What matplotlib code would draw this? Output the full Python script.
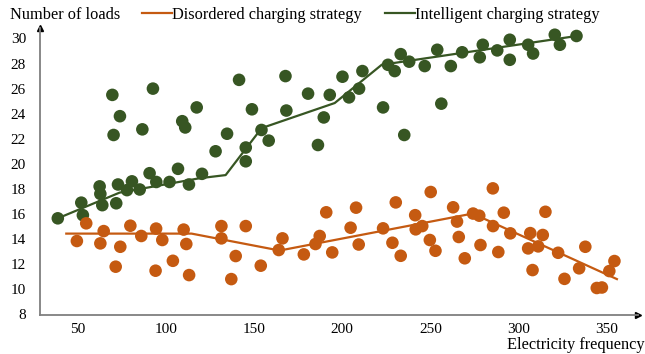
import matplotlib.pyplot as plt
from matplotlib.lines import Line2D

plt.rcParams['font.family'] = ['Liberation Serif', 'DejaVu Serif']

# disordered charging strategy (orange)
dis_x = [49.7, 55.0, 63.0, 64.9, 71.7, 74.3, 80.0, 86.2, 94.6, 94.3, 98.1, 104.1,
         110.2, 111.7, 113.3, 131.6, 131.6, 139.7, 137.2, 145.4, 153.9, 164.1,
         166.2, 178.3, 184.9, 187.3, 191.0, 194.4, 204.8, 207.9, 209.4, 223.2,
         228.5, 230.4, 233.2, 241.4, 241.7, 245.4, 249.7, 250.2, 252.9, 262.9,
         265.1, 266.1, 269.5, 274.2, 277.7, 278.4, 285.4, 285.5, 288.5, 291.6,
         295.3, 306.6, 305.4, 311.1, 313.7, 315.2, 307.9, 322.4, 326.0, 334.3,
         337.8, 344.3, 347.2, 351.4, 354.3]
dis_y = [13.84, 15.25, 13.65, 14.63, 11.79, 13.38, 15.06, 14.24, 14.83, 11.47,
         13.92, 12.26, 14.75, 13.6, 11.12, 15.03, 14.05, 12.64, 10.8, 15.03,
         11.87, 13.12, 14.05, 12.77, 13.6, 14.24, 16.13, 12.93, 14.9, 16.5,
         13.56, 14.85, 13.7, 16.92, 12.66, 15.9, 14.77, 15.03, 13.92, 17.75,
         13.06, 16.53, 15.39, 14.16, 12.46, 16.03, 15.86, 13.52, 18.04, 15.03,
         12.96, 16.1, 14.45, 14.47, 13.25, 13.41, 14.32, 16.17, 11.52, 12.9,
         10.82, 11.66, 13.38, 10.09, 10.13, 11.44, 12.24]
dis_line_x = [43.7, 114.7, 164.6, 274.0, 355.7]
dis_line_y = [14.43, 14.43, 13.08, 16.03, 10.8]

# intelligent charging strategy (green)
smart_x = [38.9, 53.1, 52.2, 64.1, 72.0, 63.0, 62.6, 73.0, 78.1, 80.9, 85.3,
           90.9, 94.7, 102.2, 107.0, 113.2, 120.6, 69.8, 92.8, 74.1, 70.5, 86.8,
           109.4, 111.1, 117.6, 128.3, 134.8, 141.6, 145.4, 145.4, 148.9, 154.3,
           158.4, 167.9, 168.4, 180.7, 186.3, 189.6, 193.0, 200.2, 203.9, 211.5,
           209.6, 223.2, 226.0, 229.8, 233.2, 235.2, 238.0, 246.8, 253.9, 256.2,
           261.6, 268.0, 278.0, 279.7, 287.9, 295.0, 295.0, 305.4, 308.2, 320.5,
           323.4, 332.8]
smart_y = [15.65, 15.9, 16.9, 16.7, 16.85, 17.6, 18.2, 18.35, 17.9, 18.6, 17.95,
           19.25, 18.55, 18.55, 19.6, 18.35, 19.2, 25.5, 26.0, 23.8, 22.3, 22.75,
           23.4, 22.9, 24.5, 21.0, 22.4, 26.7, 21.3, 20.2, 24.35, 22.7, 21.85,
           27.0, 24.25, 25.6, 21.5, 23.7, 25.5, 26.95, 25.3, 27.4, 26.0, 24.5,
           27.9, 27.4, 28.75, 22.3, 28.15, 27.8, 29.1, 24.8, 27.8, 28.9, 28.5,
           29.5, 29.05, 29.9, 28.3, 29.5, 28.8, 30.3, 29.5, 30.2]
smart_line_x = [38.9, 73.9, 119.3, 134.0, 154.4, 195.8, 222.4, 332.9]
smart_line_y = [15.65, 17.7, 18.85, 19.1, 22.85, 24.85, 27.9, 30.2]

y_ticks = [8, 10, 12, 14, 16, 18, 20, 22, 24, 26, 28, 30]
x_ticks = [50, 100, 150, 200, 250, 300, 350]

orange = '#C55A11'
green = '#375623'

fig = plt.figure(figsize=(6.45, 3.54), dpi=100)
ax = fig.add_axes([0.062, 0.110, 0.927, 0.811])

ax.scatter(smart_x, smart_y, s=82, color=green, edgecolors='none', zorder=3)
ax.scatter(dis_x, dis_y, s=82, color=orange, edgecolors='none', zorder=3)
ax.plot(smart_line_x, smart_line_y, color=green, lw=1.6, zorder=4)
ax.plot(dis_line_x, dis_line_y, color=orange, lw=1.6, zorder=4)

ax.set_xlim(28.8, 367.6)
ax.set_ylim(7.93, 30.84)
ax.set_xticks(x_ticks)
ax.set_yticks(y_ticks)
ax.tick_params(length=0, labelsize=11)
ax.tick_params(axis='y', pad=10)
ax.tick_params(axis='x', pad=6)

for s in ['top', 'right']:
    ax.spines[s].set_visible(False)
for s in ['left', 'bottom']:
    ax.spines[s].set_color('#7f7f7f')
    ax.spines[s].set_linewidth(1.3)

# axis arrows
ax.plot(1, 0, '>', color='black', ms=4, transform=ax.transAxes, clip_on=False)
ax.plot(0, 1, '^', color='black', ms=4, transform=ax.transAxes, clip_on=False)

fig.text(10 / 645, 1 - 15 / 354, 'Number of loads', fontsize=11.8, va='center')
fig.text(645 / 645, 1 - 345 / 354, 'Electricity frequency', fontsize=11.8,
         va='center', ha='right')

handles = [Line2D([], [], color=orange, lw=1.6), Line2D([], [], color=green, lw=1.6)]
fig.legend(handles, ['Disordered charging strategy', 'Intelligent charging strategy'],
           loc='center left', bbox_to_anchor=(142 / 645, 1 - 15 / 354), ncol=2,
           frameon=False, fontsize=11.8, handlelength=1.8, handletextpad=0.05,
           columnspacing=1.4, borderpad=0, borderaxespad=0)

fig.savefig('out.png', dpi=100)
